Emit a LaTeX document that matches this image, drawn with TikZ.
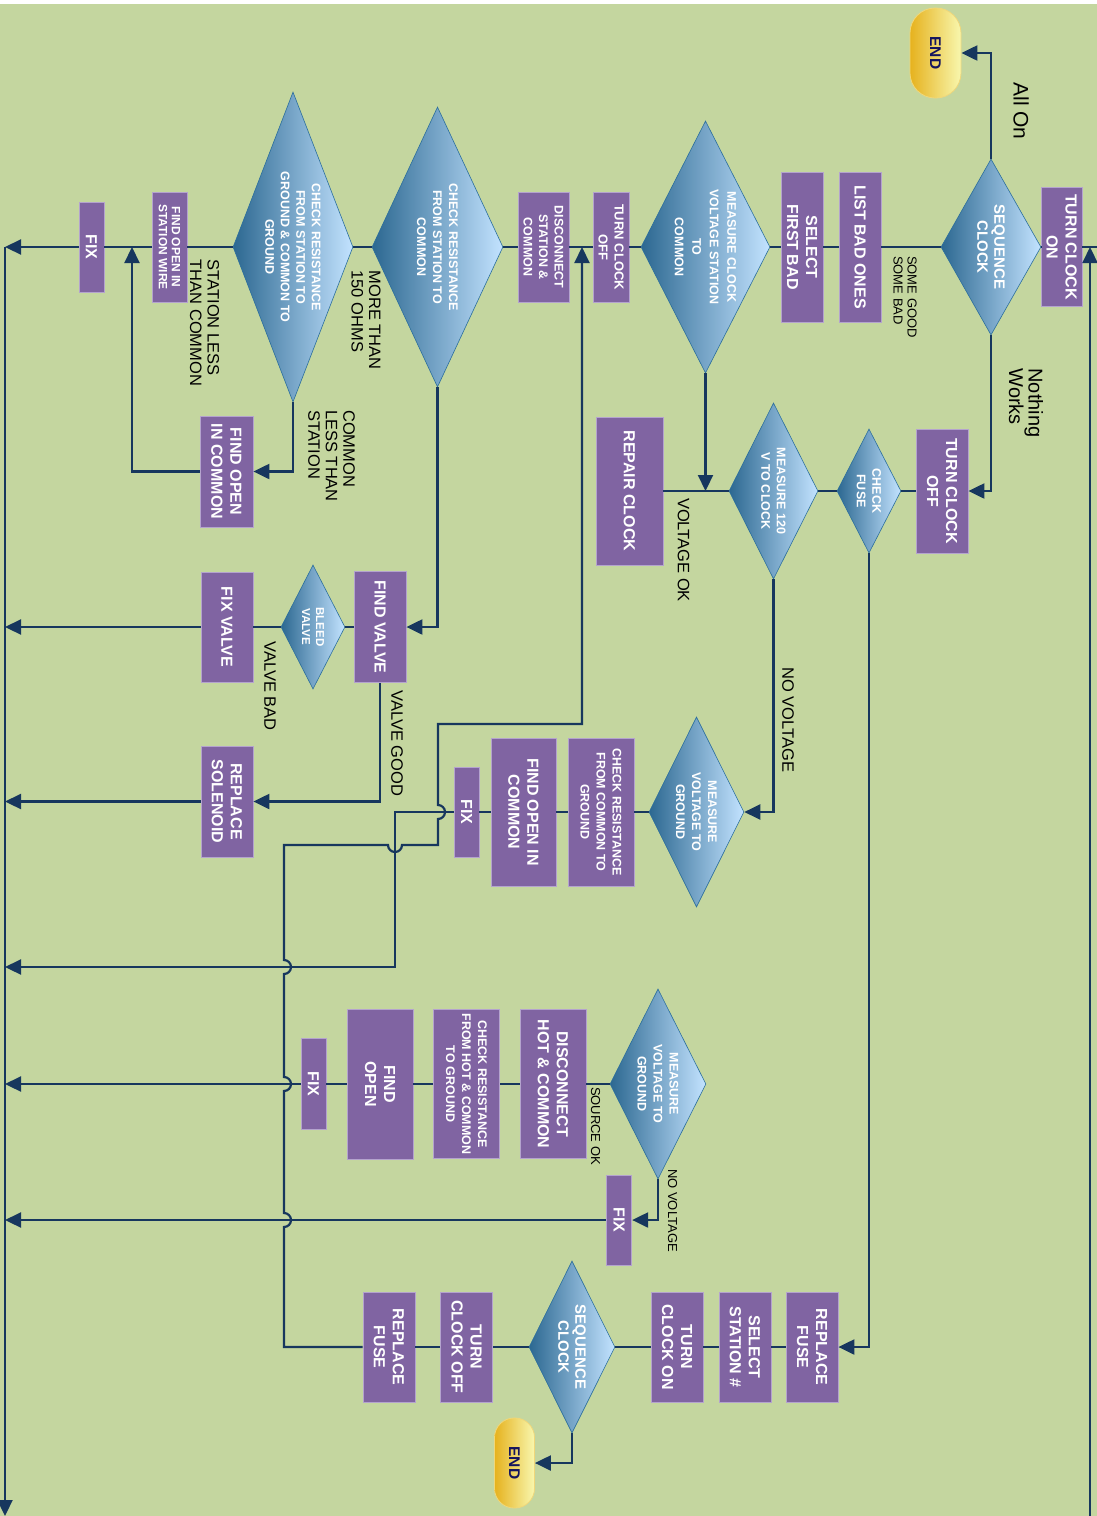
\documentclass[tikz,border=0pt]{standalone}
\usepackage{fontspec}
\setmainfont{Liberation Sans}
\usepackage{tikz}
\usetikzlibrary{arrows.meta,shapes.geometric}
\definecolor{bgGreen}{HTML}{C4D69F}
\definecolor{boxPurple}{HTML}{8064A2}
\definecolor{boxEdge}{HTML}{B4A3CE}
\definecolor{decDark}{HTML}{2C6891}
\definecolor{decLight}{HTML}{C3E3FF}
\definecolor{decEdge}{HTML}{2B6E9C}
\definecolor{flowLine}{HTML}{17375E}
\definecolor{endGold}{HTML}{E6B21E}
\definecolor{endPale}{HTML}{F8F7AE}
\definecolor{endEdge}{HTML}{F0D77A}
\definecolor{endText}{HTML}{14145E}
\tikzset{
  act/.style 2 args={rectangle, draw=boxEdge, line width=0.8pt, fill=boxPurple, text=white,
    rotate=-90, align=center, inner sep=0pt, minimum width=#2pt, minimum height=#1pt,
    font=\fontsize{16}{19}\selectfont\bfseries},
  fine/.style={font=\fontsize{12.5}{15.5}\selectfont\bfseries},
  dec/.style n args={3}{diamond, draw=decEdge, line width=0.6pt, left color=decDark, right color=decLight,
    text=white, rotate=-90, align=center, inner sep=0pt, minimum width=#2pt, minimum height=#1pt,
    shape aspect=#3, font=\fontsize{12.5}{15.5}\selectfont\bfseries},
  term/.style 2 args={rectangle, rounded corners=#1pt/2-0.5pt, draw=endEdge, line width=0.8pt,
    left color=endGold, right color=endPale, text=endText, rotate=-90, inner sep=0pt,
    minimum width=#2pt, minimum height=#1pt, font=\fontsize{15.5}{18}\selectfont\bfseries},
  lab/.style={rotate=-90, align=left, inner sep=0pt, font=\fontsize{16.5}{17.5}\selectfont},
  labsm/.style={lab, font=\fontsize{13}{14}\selectfont},
  labbig/.style={lab, font=\fontsize{20}{18}\selectfont},
  flow/.style={draw=flowLine, line width=2.2pt},
  arr/.style={flow, -{Triangle[length=16pt,width=15pt]}},
}
\begin{document}
\begin{tikzpicture}[x=1pt, y=-1pt]
% --- page
\useasboundingbox (0,0) rectangle (1097,1516);
\fill[white] (0,0) rectangle (1097,4);
\fill[bgGreen] (0,4) rectangle (1097,1516);
% --- main row
\node[act={41}{119}] (ton1) at (1061.5,247) {TURN CLOCK\\ON};
\node[dec={100}{176}{1.76}, font=\fontsize{15}{17}\selectfont\bfseries] (seq1) at (991,247) {SEQUENCE\\CLOCK};
\node[term={51}{90}] (end1) at (935.5,53) {END};
\node[act={42}{150}] (lbo) at (860,247) {LIST BAD ONES};
\node[act={42}{150}] (sfb) at (802,247) {SELECT\\FIRST BAD};
\node[dec={129}{252}{1.95}, font=\fontsize{12.5}{17.5}\selectfont\bfseries] (mcv) at (705.5,247) {MEASURE CLOCK\\VOLTAGE STATION\\TO\\COMMON};
\node[act={36}{110}, font=\fontsize{13}{16}\selectfont\bfseries] (tco1) at (611,247) {TURN CLOCK\\OFF};
\node[act={51}{110}, fine] (dsc) at (543.5,247) {DISCONNECT\\STATION \&\\COMMON};
\node[dec={131}{280}{2.14}, font=\fontsize{12.5}{16}\selectfont\bfseries] (crc) at (437.5,247) {CHECK RESISTANCE\\FROM STATION TO\\COMMON};
\node[dec={120}{310}{2.58}] (crg) at (293,247) {CHECK RESISTANCE\\FROM STATION TO\\GROUND \& COMMON TO\\GROUND};
\node[act={35}{110}, font=\fontsize{12}{13}\selectfont\bfseries] (fos) at (169.5,247) {FIND OPEN IN\\STATION WIRE};
\node[act={25}{90}] (fix1) at (91.5,247) {FIX};
% --- clock branch
\node[act={52}{124}] (tco2) at (942,491) {TURN CLOCK\\OFF};
\node[dec={64}{124}{1.94}, fine] (chf) at (869,491) {CHECK\\FUSE};
\node[dec={89}{176}{1.98}, fine] (m120) at (773.5,491) {MEASURE 120\\V TO CLOCK};
\node[act={67}{148}] (rep) at (629.5,491) {REPAIR CLOCK};
\node[dec={95}{190}{2}, font=\fontsize{12.5}{16}\selectfont\bfseries] (mvg1) at (696.5,812) {MEASURE\\VOLTAGE TO\\GROUND};
\node[act={66}{148}, font=\fontsize{12.5}{16}\selectfont\bfseries] (crcg) at (601,812) {CHECK RESISTANCE\\FROM COMMON TO\\GROUND};
\node[act={65}{148}] (foc2) at (523.5,812) {FIND OPEN IN\\COMMON};
\node[act={25}{90}] (fix2) at (466.5,812) {FIX};
% --- valve branch
\node[act={53}{111}] (foc1) at (226.5,471.5) {FIND OPEN\\IN COMMON};
\node[act={52}{111}] (fv) at (380,627) {FIND VALVE};
\node[dec={64}{124}{1.94}, font=\fontsize{11.5}{14}\selectfont\bfseries] (blv) at (313,627) {BLEED\\VALVE};
\node[act={52}{110}] (fxv) at (227,627) {FIX VALVE};
\node[act={52}{111}] (rs) at (227,801.5) {REPLACE\\SOLENOID};
% --- source branch
\node[dec={96}{190}{1.98}, font=\fontsize{12.5}{16}\selectfont\bfseries] (mvg2) at (658,1084) {MEASURE\\VOLTAGE TO\\GROUND};
\node[act={66}{149}] (dhc) at (553,1084) {DISCONNECT\\HOT \& COMMON};
\node[act={66}{149}, font=\fontsize{12.5}{16}\selectfont\bfseries] (crh) at (466.5,1084) {CHECK RESISTANCE\\FROM HOT \& COMMON\\TO GROUND};
\node[act={66}{150}] (fop) at (380,1084) {FIND\\OPEN};
\node[act={25}{91}] (fix3) at (313.5,1084) {FIX};
\node[act={25.5}{90}] (fix4) at (619,1220) {FIX};
% --- fuse branch
\node[act={52}{110}] (rf1) at (812,1347) {REPLACE\\FUSE};
\node[act={52}{110}] (ssn) at (745,1347) {SELECT\\STATION \#};
\node[act={52}{110}] (tcon) at (677,1347) {TURN\\CLOCK ON};
\node[dec={86}{172}{2}, font=\fontsize{15}{17}\selectfont\bfseries] (seq2) at (572,1347) {SEQUENCE\\CLOCK};
\node[act={52}{110}] (tcoff) at (466.5,1347) {TURN\\CLOCK OFF};
\node[act={52}{110}] (rf2) at (389,1347) {REPLACE\\FUSE};
\node[term={40}{90}] (end2) at (514.5,1463) {END};
% --- joints
\coordinate (ltop) at (5,247);
\coordinate (lbot) at (5,1516);
\coordinate (rin) at (1097,247);
\coordinate (rjoin) at (1090,247);
\coordinate (rbot) at (1090,1516);
\coordinate (k1) at (132,247);
\coordinate (k2) at (395,967);
\coordinate (k3) at (582,247);
% --- connectors
\draw[flow] (rin) -- (ton1) -- (seq1) -- (lbo) -- (sfb) -- (mcv) -- (tco1) -- (dsc) -- (crc) -- (crg) -- (fos) -- (fix1);
\draw[arr] (fix1) -- (ltop);
\draw[arr] (ltop) -- (lbot);
\draw[arr] (rbot) -- (rjoin);
\draw[arr] (seq1.west) |- (end1.north);
\draw[arr] (seq1.east) |- (tco2.north);
\draw[flow] (tco2) -- (chf) -- (m120) -- (rep);
\draw[arr] (mcv.east) -- (mcv.east |- m120);
\draw[arr] (m120.east) |- (mvg1.north);
\draw[flow] (mvg1) -- (crcg) -- (foc2) -- (fix2);
\draw[arr] (fix2.south) -| (k2) -- (k2 -| ltop);
\draw[arr] (crc.east) |- (fv.north);
\draw[flow] (fv) -- (blv) -- (fxv);
\draw[arr] (fxv.south) -- (fxv.south -| ltop);
\draw[arr] (fv.east) |- (rs.north);
\draw[arr] (rs.south) -- (rs.south -| ltop);
\draw[arr] (crg.east) |- (foc1.north);
\draw[arr] (foc1.south) -| (k1);
\draw[flow] (mvg2) -- (dhc) -- (crh) -- (fop) -- (fix3);
\draw[arr] (fix3.south) -- (fix3.south -| ltop);
\draw[arr] (mvg2.east) |- (fix4.north);
\draw[arr] (fix4.south) -- (fix4.south -| ltop);
\draw[arr] (chf.east) |- (rf1.north);
\draw[flow] (rf1) -- (ssn) -- (tcon) -- (seq2) -- (tcoff) -- (rf2);
\draw[arr] (seq2.east) |- (end2.north);
\draw[arr] (rf2.south) -- (284,1347) -- (284,1227) arc[start angle=-90, end angle=90, radius=7pt]
  -- (284,1091) arc[start angle=-90, end angle=90, radius=7pt]
  -- (284,974) arc[start angle=-90, end angle=90, radius=7pt]
  -- (284,845) -- (388,845) arc[start angle=180, end angle=360, radius=7pt]
  -- (438,845) -- (438,819) arc[start angle=-90, end angle=90, radius=7pt]
  -- (438,724) -| (k3);
% --- labels
\node[labbig, font=\fontsize{21}{22}\selectfont] (lallon) at (1021,111) {All On};
\node[labsm] (lsome) at (905,297) {SOME GOOD\\SOME BAD};
\node[labbig] (lnoth) at (1026,403) {Nothing\\Works};
\node[lab] (lvok) at (683.5,550) {VOLTAGE OK};
\node[lab] (lnov1) at (788,720) {NO VOLTAGE};
\node[lab] (lstat) at (204.5,323) {STATION LESS\\THAN COMMON};
\node[lab] (lmore) at (366,320) {MORE THAN\\150 OHMS};
\node[lab] (lcomm) at (331.5,456) {COMMON\\LESS THAN\\STATION};
\node[lab] (lvbad) at (270,686) {VALVE BAD};
\node[lab] (lvgood) at (397,743.5) {VALVE GOOD};
\node[labsm] (lsrc) at (595.5,1126) {SOURCE OK};
\node[labsm] (lnov2) at (672.5,1210.5) {NO VOLTAGE};
\end{tikzpicture}
\end{document}
